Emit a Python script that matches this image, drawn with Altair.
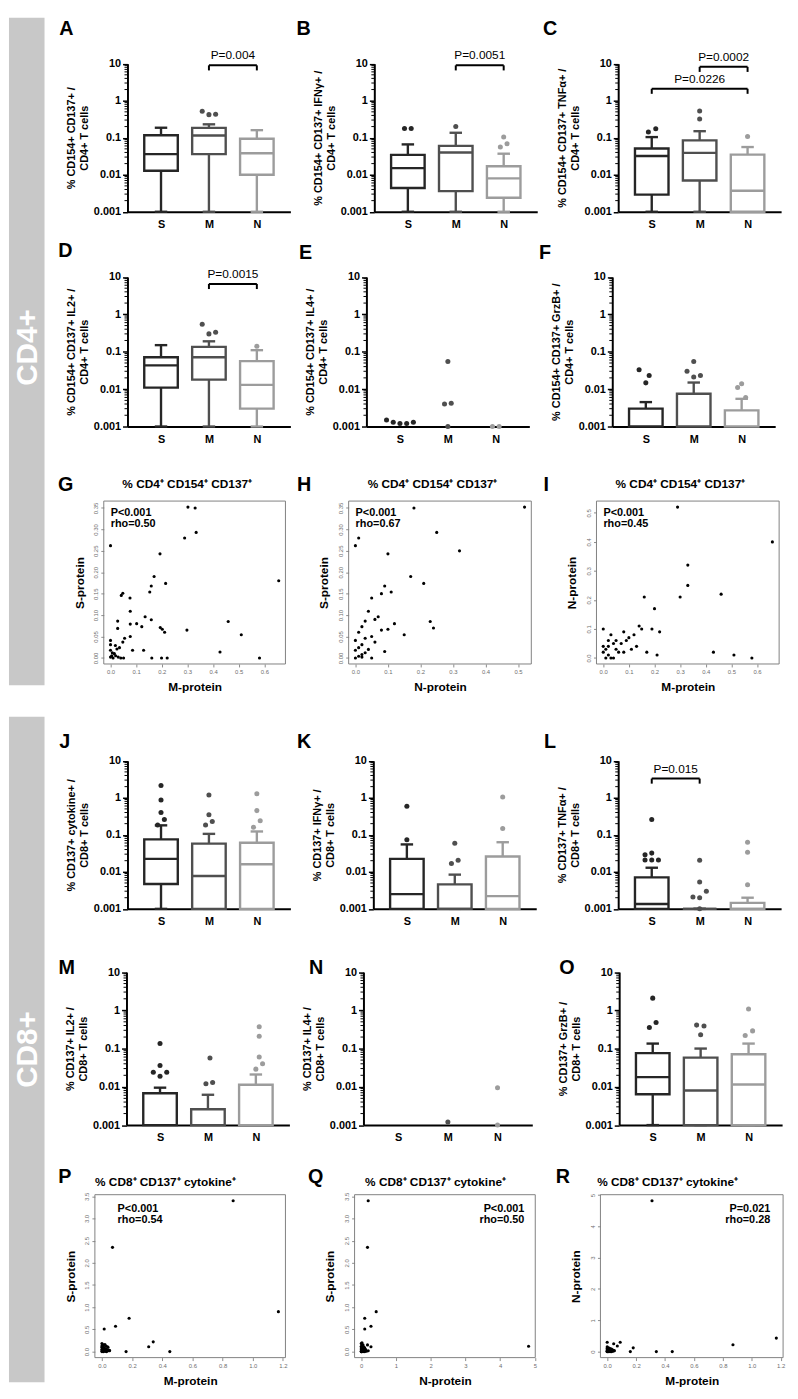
import altair as alt
import pandas as pd

FONT = "Liberation Sans"
CATS = ["S", "M", "N"]
CAT_POS = {"S": 0, "M": 1, "N": 2}
CAT_COLORS = ["#262626", "#4f4f4f", "#9c9c9c"]
SIDEBAR_COLOR = "#c8c8c8"

# ---------------- layout geometry (screen px) ----------------
COL_X = [50, 300, 550, 798]
ROW_Y = [8, 204.5, 421.5, 662, 909.5, 1128, 1363]
PLOT_TOP = [54.5, 270, 497, 759.5, 973, 1198]

Y_TICKS = [0.001, 0.01, 0.1, 1, 10]
MINOR_TICKS = [m * 10.0 ** e for e in (-3, -2, -1, 0) for m in range(2, 10)]

# ---------------- data: CD4+ ----------------
A_q1 = [0.0128, 0.036, 0.010]
A_med = [0.036, 0.115, 0.038]
A_q3 = [0.117, 0.185, 0.094]
A_lo = [0.001, 0.001, 0.001]
A_hi = [0.186, 0.23, 0.16]
A_out_cat = ["M", "M", "M"]
A_out_val = [0.52, 0.42, 0.43]
A_out_slot = [-1, 0, 1]
A_brk = [("M", "N", 9.0, "P=0.004")]

B_q1 = [0.0044, 0.0036, 0.0024]
B_med = [0.0151, 0.040, 0.008]
B_q3 = [0.0343, 0.060, 0.017]
B_lo = [0.001, 0.001, 0.001]
B_hi = [0.066, 0.136, 0.037]
B_out_cat = ["S", "S", "M", "N", "N", "N"]
B_out_val = [0.178, 0.178, 0.20, 0.105, 0.056, 0.069]
B_out_slot = [-0.5, 0.5, 0, 0, -0.5, 0.5]
B_brk = [("M", "N", 9.0, "P=0.0051")]

C_q1 = [0.0029, 0.007, 0.001]
C_med = [0.032, 0.039, 0.0037]
C_q3 = [0.051, 0.085, 0.035]
C_lo = [0.001, 0.001, 0.001]
C_hi = [0.104, 0.15, 0.056]
C_out_cat = ["S", "S", "M", "M", "N"]
C_out_val = [0.142, 0.174, 0.32, 0.53, 0.108]
C_out_slot = [-0.5, 0.6, 0, 0, 0]
C_brk = [("M", "N", 8.2, "P=0.0002"), ("S", "N", 2.1, "P=0.0226")]

D_q1 = [0.011, 0.018, 0.003]
D_med = [0.043, 0.071, 0.013]
D_q3 = [0.071, 0.135, 0.056]
D_lo = [0.001, 0.001, 0.001]
D_hi = [0.15, 0.19, 0.11]
D_out_cat = ["M", "M", "M", "N"]
D_out_val = [0.54, 0.30, 0.33, 0.14]
D_out_slot = [-1, 0, 1, 0]
D_brk = [("M", "N", 6.5, "P=0.0015")]

E_out_cat = ["S", "S", "S", "S", "S", "M", "M", "M", "M", "N", "N"]
E_out_val = [0.0015, 0.0013, 0.0012, 0.0012, 0.0013, 0.055, 0.004, 0.0042, 0.001, 0.001, 0.001]
E_out_slot = [-2, -1, 0, 1, 2, 0, -0.5, 0.5, 0, -0.5, 0.5]

F_mean = [0.003, 0.0075, 0.0027]
F_err = [0.0045, 0.015, 0.0055]
F_out_cat = ["S", "S", "S", "M", "M", "M", "M", "N", "N", "N"]
F_out_val = [0.033, 0.023, 0.0147, 0.055, 0.03, 0.023, 0.021, 0.014, 0.011, 0.006]
F_out_slot = [-1, 0.5, 0, 0, -1, 1, 0, 0, -0.6, 0.6]

# ---------------- data: CD8+ ----------------
J_q1 = [0.0047, 0.001, 0.001]
J_med = [0.0224, 0.0077, 0.016]
J_q3 = [0.075, 0.058, 0.061]
J_lo = [0.001, 0.001, 0.001]
J_hi = [0.18, 0.106, 0.123]
J_out_cat = ["S", "S", "S", "S", "S", "M", "M", "M", "M", "N", "N", "N", "N"]
J_out_val = [2.15, 0.87, 0.40, 0.185, 0.26, 1.19, 0.35, 0.185, 0.23, 1.29, 0.45, 0.16, 0.24]
J_out_slot = [0, 0, 0, -0.5, 0.5, 0, 0, -0.5, 0.5, 0, 0, -0.5, 0.5]

K_q1 = [0.001, 0.001, 0.001]
K_med = [0.0025, 0.001, 0.0022]
K_q3 = [0.0224, 0.0046, 0.026]
K_lo = [0.001, 0.001, 0.001]
K_hi = [0.055, 0.0084, 0.063]
K_out_cat = ["S", "S", "M", "M", "M", "N", "N"]
K_out_val = [0.074, 0.59, 0.059, 0.0168, 0.0205, 0.148, 1.05]
K_out_slot = [0, 0, 0, -0.5, 0.5, 0, 0]

L_q1 = [0.001, 0.001, 0.001]
L_med = [0.00135, 0.001, 0.001]
L_q3 = [0.0071, 0.001, 0.00145]
L_lo = [0.001, 0.001, 0.001]
L_hi = [0.0129, 0.001, 0.002]
L_out_cat = ["S", "S", "S", "S", "S", "S", "M", "M", "M", "M", "M", "M", "N", "N", "N"]
L_out_val = [0.26, 0.029, 0.032, 0.021, 0.021, 0.021, 0.0205, 0.0053, 0.003, 0.0021, 0.002, 0.001, 0.063, 0.034, 0.0045]
L_out_slot = [0, -1, 0, -1, 0, 1, 0, 0, 1, -1, 0, 0, 0, 0, 0]
L_brk = [("S", "M", 3.3, "P=0.015")]

M_mean = [0.0068, 0.0026, 0.0113]
M_err = [0.0095, 0.0062, 0.021]
M_out_cat = ["S", "S", "S", "S", "S", "M", "M", "M", "N", "N", "N", "N", "N"]
M_out_val = [0.135, 0.036, 0.024, 0.024, 0.019, 0.057, 0.012, 0.013, 0.37, 0.21, 0.06, 0.029, 0.04]
M_out_slot = [0, 0, -1, 1, 0, 0.3, -0.3, 0.7, 0.5, 0.5, 0.5, 0, 1]

N_out_cat = ["M", "N", "N"]
N_out_val = [0.0012, 0.0095, 0.001]
N_out_slot = [0, 0, 0]

O_q1 = [0.0064, 0.001, 0.001]
O_med = [0.018, 0.008, 0.0115]
O_q3 = [0.076, 0.058, 0.071]
O_lo = [0.001, 0.001, 0.001]
O_hi = [0.135, 0.10, 0.135]
O_out_cat = ["S", "S", "S", "M", "M", "M", "N", "N", "N"]
O_out_val = [2.08, 0.355, 0.48, 0.41, 0.39, 0.23, 1.08, 0.22, 0.29]
O_out_slot = [0, -0.5, 0.5, -0.6, 0.5, 0, 0, -0.5, 0.6]

# ---------------- data: correlations ----------------
G_x = [0.000, 0.302, 0.330, 0.334, 0.289, 0.193, 0.170, 0.215, 0.159, 0.153, 0.048, 0.042, 0.076, 0.077,
       0.135, 0.028, 0.459, 0.159, 0.102, 0.077, 0.122, 0.194, 0.202, 0.211, 0.028, 0.298, 0.510, 0.055,
       0.077, 0.048, 0.000, 0.000, 0.019, 0.035, 0.025, 0.086, 0.129, 0.427, 0.000, 0.007, 0.015, 0.005,
       0.000, 0.051, 0.040, 0.161, 0.199, 0.221, 0.581, 0.656, 0.010, 0.020, 0.030]
G_y = [0.262, 0.352, 0.350, 0.293, 0.280, 0.243, 0.190, 0.174, 0.168, 0.154, 0.151, 0.146, 0.140, 0.109,
       0.096, 0.086, 0.085, 0.089, 0.080, 0.079, 0.073, 0.071, 0.067, 0.060, 0.069, 0.065, 0.054, 0.046,
       0.050, 0.037, 0.041, 0.031, 0.029, 0.024, 0.021, 0.018, 0.018, 0.014, 0.018, 0.012, 0.010, 0.005,
       0.002, 0.000, 0.000, 0.000, 0.000, 0.000, 0.000, 0.180, 0.000, 0.005, 0.002]

H_x = [0.52, 0.32, 0.25, 0.18, 0.00, 0.01, 0.10, 0.17, 0.21, 0.09, 0.08, 0.11, 0.06, 0.05, 0.23, 0.24,
       0.04, 0.03, 0.07, 0.12, 0.02, 0.01, 0.00, 0.03, 0.05, 0.06, 0.08, 0.10, 0.02, 0.01, 0.00, 0.04,
       0.03, 0.02, 0.15, 0.09, 0.01, 0.05, 0.00, 0.02]
H_y = [0.352, 0.250, 0.293, 0.350, 0.262, 0.280, 0.243, 0.190, 0.174, 0.168, 0.150, 0.154, 0.090, 0.140,
       0.085, 0.070, 0.109, 0.086, 0.096, 0.080, 0.073, 0.060, 0.041, 0.046, 0.050, 0.037, 0.065, 0.067,
       0.031, 0.024, 0.018, 0.020, 0.012, 0.008, 0.054, 0.015, 0.004, 0.000, 0.000, 0.002]

I_x = [0.29, 0.66, 0.33, 0.33, 0.30, 0.16, 0.46, 0.20, 0.19, 0.15, 0.22, 0.12, 0.10, 0.08, 0.05, 0.04,
       0.03, 0.02, 0.01, 0.00, 0.00, 0.06, 0.07, 0.09, 0.13, 0.17, 0.21, 0.51, 0.58, 0.43, 0.01, 0.02,
       0.03, 0.05, 0.00, 0.04, 0.08, 0.11, 0.14, 0.02]
I_y = [0.52, 0.40, 0.32, 0.25, 0.21, 0.21, 0.22, 0.17, 0.10, 0.10, 0.09, 0.08, 0.07, 0.09, 0.06, 0.05,
       0.08, 0.04, 0.03, 0.02, 0.10, 0.02, 0.05, 0.06, 0.04, 0.02, 0.01, 0.01, 0.00, 0.02, 0.00, 0.01,
       0.00, 0.03, 0.04, 0.00, 0.02, 0.03, 0.11, 0.06]

P_x = [0.87, 0.07, 1.17, 0.18, 0.09, 0.015, 0.34, 0.31, 0.16, 0.45, 0.00, 0.01, 0.02, 0.03, 0.04, 0.00,
       0.01, 0.02, 0.03, 0.04, 0.05, 0.00, 0.01, 0.02, 0.03, 0.00, 0.01, 0.02, 0.04, 0.00, 0.01, 0.02,
       0.03, 0.05, 0.00, 0.01]
P_y = [3.40, 2.35, 0.90, 0.75, 0.57, 0.51, 0.22, 0.11, 0.00, 0.00, 0.18, 0.15, 0.16, 0.12, 0.10, 0.10,
       0.08, 0.06, 0.05, 0.04, 0.03, 0.05, 0.03, 0.02, 0.01, 0.00, 0.00, 0.01, 0.02, 0.13, 0.11, 0.07,
       0.00, 0.02, 0.02, 0.04]

Q_x = [0.20, 0.18, 4.82, 0.43, 0.10, 0.28, 0.10, 0.28, 0.20, 0.18, 0.00, 0.02, 0.05, 0.08, 0.10, 0.12,
       0.00, 0.03, 0.06, 0.09, 0.00, 0.01, 0.04, 0.07, 0.15, 0.00, 0.02, 0.05, 0.10, 0.13, 0.00, 0.03,
       0.06, 0.00, 0.01, 0.04]
Q_y = [3.40, 2.35, 0.12, 0.90, 0.75, 0.57, 0.51, 0.11, 0.02, 0.15, 0.18, 0.20, 0.15, 0.10, 0.08, 0.05,
       0.12, 0.10, 0.06, 0.03, 0.08, 0.05, 0.04, 0.02, 0.01, 0.00, 0.01, 0.00, 0.00, 0.03, 0.04, 0.02,
       0.01, 0.00, 0.00, 0.06]

R_x = [0.31, 1.17, 0.87, 0.00, 0.09, 0.045, 0.07, 0.18, 0.16, 0.34, 0.45, 0.00, 0.01, 0.02, 0.03, 0.04,
       0.00, 0.01, 0.02, 0.03, 0.00, 0.01, 0.02, 0.04, 0.00, 0.01, 0.02, 0.03, 0.05, 0.00, 0.01, 0.02,
       0.00, 0.01, 0.03, 0.02]
R_y = [4.82, 0.43, 0.22, 0.30, 0.30, 0.25, 0.18, 0.12, 0.00, 0.00, 0.00, 0.15, 0.12, 0.10, 0.08, 0.05,
       0.10, 0.08, 0.06, 0.04, 0.05, 0.03, 0.02, 0.01, 0.00, 0.00, 0.01, 0.00, 0.03, 0.02, 0.05, 0.07,
       0.00, 0.02, 0.06, 0.00]

CD4_T = "CD4+  T cells"
CD8_T = "CD8+  T cells"

CAT_PANELS = [
    dict(L="A", row=0, col=0, x0=128, w=165, lx=66, ly=19.5, kind="box",
         yt=["% CD154+ CD137+ /", CD4_T], st=(A_q1, A_med, A_q3, A_lo, A_hi),
         out=(A_out_cat, A_out_val, A_out_slot), brk=A_brk),
    dict(L="B", row=0, col=1, x0=378, w=165, lx=306.5, ly=19.5, kind="box",
         yt=["% CD154+ CD137+ IFN\u03b3+ /", CD4_T], st=(B_q1, B_med, B_q3, B_lo, B_hi),
         out=(B_out_cat, B_out_val, B_out_slot), brk=B_brk),
    dict(L="C", row=0, col=2, x0=625, w=165, lx=556, ly=19.5, kind="box",
         yt=["% CD154+ CD137+ TNF\u03b1+ /", CD4_T], st=(C_q1, C_med, C_q3, C_lo, C_hi),
         out=(C_out_cat, C_out_val, C_out_slot), brk=C_brk),
    dict(L="D", row=1, col=0, x0=128, w=165, lx=65, ly=243.5, kind="box",
         yt=["% CD154+ CD137+ IL2+ /", CD4_T], st=(D_q1, D_med, D_q3, D_lo, D_hi),
         out=(D_out_cat, D_out_val, D_out_slot), brk=D_brk),
    dict(L="E", row=1, col=1, x0=370, w=165, lx=308.5, ly=245.5, kind="dot",
         yt=["% CD154+ CD137+ IL4+ /", CD4_T], out=(E_out_cat, E_out_val, E_out_slot)),
    dict(L="F", row=1, col=2, x0=619, w=165, lx=551, ly=245.5, kind="bar",
         yt=["% CD154+ CD137+ GrzB+ /", CD4_T], st=(F_mean, F_err),
         out=(F_out_cat, F_out_val, F_out_slot)),
    dict(L="J", row=3, col=0, x0=128, w=165, lx=64.5, ly=740.5, kind="box",
         yt=["% CD137+ cytokine+ /", CD8_T], st=(J_q1, J_med, J_q3, J_lo, J_hi),
         out=(J_out_cat, J_out_val, J_out_slot)),
    dict(L="K", row=3, col=1, x0=377, w=165, lx=307, ly=740.5, kind="box",
         yt=["% CD137+ IFN\u03b3+ /", CD8_T], st=(K_q1, K_med, K_q3, K_lo, K_hi),
         out=(K_out_cat, K_out_val, K_out_slot)),
    dict(L="L", row=3, col=2, x0=625, w=165, lx=556, ly=740.5, kind="box",
         yt=["% CD137+ TNF\u03b1+ /", CD8_T], st=(L_q1, L_med, L_q3, L_lo, L_hi),
         out=(L_out_cat, L_out_val, L_out_slot), brk=L_brk),
    dict(L="M", row=4, col=0, x0=127, w=165, lx=66.5, ly=969, kind="bar",
         yt=["% CD137+ IL2+ /", CD8_T], st=(M_mean, M_err),
         out=(M_out_cat, M_out_val, M_out_slot)),
    dict(L="N", row=4, col=1, x0=367, w=171, lx=319, ly=969, kind="dot",
         yt=["% CD137+ IL4+ /", CD8_T], out=(N_out_cat, N_out_val, N_out_slot)),
    dict(L="O", row=4, col=2, x0=626, w=165, lx=573, ly=969, kind="box",
         yt=["% CD137+ GrzB+ /", CD8_T], st=(O_q1, O_med, O_q3, O_lo, O_hi),
         out=(O_out_cat, O_out_val, O_out_slot)),
]

T4 = "% CD4\u207a CD154\u207a CD137\u207a"
T8 = "% CD8\u207a CD137\u207a cytokine\u207a"
TK_01 = [0, 0.1, 0.2, 0.3, 0.4, 0.5, 0.6]
TK_005 = [0, 0.05, 0.1, 0.15, 0.2, 0.25, 0.3, 0.35]
TK_02 = [0, 0.2, 0.4, 0.6, 0.8, 1.0, 1.2]
TK_05 = [0, 0.5, 1.0, 1.5, 2.0, 2.5, 3.0, 3.5]
TK_1 = [0, 1, 2, 3, 4, 5]

SC_PANELS = [
    dict(L="G", row=2, col=0, bx=(104, 288), lx=65.5, ly=480.5, title=T4, tx=188.5, ty=480,
         x=G_x, y=G_y, xt=TK_01, yt=TK_005, xf=".1f", yf=".2f", xlab="M-protein", ylab="S-protein",
         stat="P<0.001\nrho=0.50", sx=111, sy=503, sa="left"),
    dict(L="H", row=2, col=1, bx=(352, 537), lx=307, ly=480.5, title=T4, tx=437, ty=480,
         x=H_x, y=H_y, xt=TK_01[:6], yt=TK_005, xf=".1f", yf=".2f", xlab="N-protein", ylab="S-protein",
         stat="P<0.001\nrho=0.67", sx=359, sy=503, sa="left"),
    dict(L="I", row=2, col=2, bx=(603, 788), lx=552, ly=480.5, title=T4, tx=688, ty=480,
         x=I_x, y=I_y, xt=TK_01, yt=TK_01[:6], xf=".1f", yf=".1f", xlab="M-protein", ylab="N-protein",
         stat="P<0.001\nrho=0.45", sx=610, sy=503, sa="left"),
    dict(L="P", row=5, col=0, bx=(95, 288), lx=64.5, ly=1180, title=T8, tx=166.5, ty=1185,
         x=P_x, y=P_y, xt=TK_02, yt=TK_05, xf=".1f", yf=".1f", xlab="M-protein", ylab="S-protein",
         stat="P<0.001\nrho=0.54", sx=118, sy=1207, sa="left"),
    dict(L="Q", row=5, col=1, bx=(358, 541), lx=318.5, ly=1180.5, title=T8, tx=440, ty=1185,
         x=Q_x, y=Q_y, xt=TK_1, yt=TK_05, xf="d", yf=".1f", xlab="N-protein", ylab="S-protein",
         stat="P<0.001\nrho=0.50", sx=530, sy=1207, sa="right"),
    dict(L="R", row=5, col=2, bx=(607, 792), lx=569, ly=1180, title=T8, tx=675, ty=1185,
         x=R_x, y=R_y, xt=TK_02, yt=TK_1, xf=".1f", yf="d", xlab="M-protein", ylab="N-protein",
         stat="P=0.021\nrho=0.28", sx=779, sy=1207, sa="right"),
]


def one_row():
    return alt.Chart(pd.DataFrame({"k": [0]}))


def text_at(x, y, txt, **kw):
    return one_row().mark_text(font=FONT, **kw).encode(
        x=alt.value(x), y=alt.value(y), text=alt.value(txt))


def cat_panel(P):
    r, c = P["row"], P["col"]
    W = COL_X[c + 1] - COL_X[c]
    H = ROW_Y[r + 1] - ROW_Y[r]
    gap = PLOT_TOP[r] - ROW_Y[r]
    a = P["x0"] - COL_X[c]
    xs = alt.Scale(domain=[-0.7, 2.7], range=[a, a + P["w"]], nice=False, zero=False)
    ys = alt.Scale(type="log", domain=[0.001, 10], range=[H, gap], nice=False)
    xax = alt.Axis(values=[0, 1, 2], labelExpr="['S','M','N'][datum.value]", title=None,
                   domainColor="black", domainWidth=2, ticks=False,
                   labelFont=FONT, labelFontSize=11, labelFontWeight="bold", labelColor="black",
                   labelPadding=7, grid=False, labelFlush=False, labelOverlap=False)
    yax = alt.Axis(values=Y_TICKS, format="~g", title=P["yt"], offset=-a,
                   domainColor="black", domainWidth=2, tickColor="black", tickWidth=1.5, tickSize=5,
                   labelFont=FONT, labelFontSize=11, labelFontWeight="bold", labelColor="black",
                   labelPadding=2, labelFlush=False, labelOverlap=False,
                   titleFont=FONT, titleFontSize=11, titleFontWeight="bold", titleColor="black",
                   titlePadding=4, grid=False)
    colr = alt.Scale(domain=CATS, range=CAT_COLORS)

    def ex(f):
        return alt.X(f + ":Q", scale=xs, axis=xax)

    def ey(f):
        return alt.Y(f + ":Q", scale=ys, axis=yax)

    stroke = alt.Stroke("cat:N", scale=colr, legend=None)
    layers = []
    if P["kind"] == "box":
        q1, med, q3, lo, hi = P["st"]
        st = pd.DataFrame({"cat": CATS, "pos": [0, 1, 2], "q1": q1, "med": med, "q3": q3,
                           "lo": lo, "hi": hi})
        base = alt.Chart(st).transform_calculate(
            bl="datum.pos-0.35", br="datum.pos+0.35", cl="datum.pos-0.13", cr="datum.pos+0.13")
        layers += [
            base.mark_rule(strokeWidth=2.4).encode(x=ex("pos"), y=ey("lo"), y2="hi", stroke=stroke),
            base.mark_rule(strokeWidth=2.4).encode(x=ex("cl"), x2="cr", y=ey("hi"), stroke=stroke),
            base.mark_rule(strokeWidth=2.4).encode(x=ex("cl"), x2="cr", y=ey("lo"), stroke=stroke),
            base.mark_rect(fill="white", strokeWidth=2.4).encode(
                x=ex("bl"), x2="br", y=ey("q1"), y2="q3", stroke=stroke),
            base.mark_rule(strokeWidth=2.4).encode(x=ex("bl"), x2="br", y=ey("med"), stroke=stroke),
        ]
    elif P["kind"] == "bar":
        mean, err = P["st"]
        st = pd.DataFrame({"cat": CATS, "pos": [0, 1, 2], "mean": mean, "err": err})
        base = alt.Chart(st).transform_calculate(
            bl="datum.pos-0.35", br="datum.pos+0.35", cl="datum.pos-0.13", cr="datum.pos+0.13",
            base="0.001")
        layers += [
            base.mark_rule(strokeWidth=2.4).encode(x=ex("pos"), y=ey("mean"), y2="err", stroke=stroke),
            base.mark_rule(strokeWidth=2.4).encode(x=ex("cl"), x2="cr", y=ey("err"), stroke=stroke),
            base.mark_rect(fill="white", strokeWidth=2.4).encode(
                x=ex("bl"), x2="br", y=ey("base"), y2="mean", stroke=stroke),
        ]
    oc, ov, osl = P["out"]
    od = pd.DataFrame({"cat": oc, "val": ov, "slot": osl})
    od["pos"] = od["cat"].map(CAT_POS)
    layers.append(
        alt.Chart(od).transform_calculate(px="datum.pos + datum.slot*0.14")
        .mark_circle(size=26, opacity=1)
        .encode(x=ex("px"), y=ey("val"), color=alt.Color("cat:N", scale=colr, legend=None)))
    if P.get("brk"):
        bd = pd.DataFrame({"x1": [CAT_POS[b[0]] for b in P["brk"]],
                           "x2": [CAT_POS[b[1]] for b in P["brk"]],
                           "y": [b[2] for b in P["brk"]],
                           "label": [b[3] for b in P["brk"]]})
        bb = alt.Chart(bd).transform_calculate(yl="datum.y*0.73", xm="(datum.x1+datum.x2)/2")
        layers += [
            bb.mark_rule(color="black", strokeWidth=2).encode(x=ex("x1"), x2="x2", y=ey("y")),
            bb.mark_rule(color="black", strokeWidth=2).encode(x=ex("x1"), y=ey("yl"), y2="y"),
            bb.mark_rule(color="black", strokeWidth=2).encode(x=ex("x2"), y=ey("yl"), y2="y"),
            bb.mark_text(font=FONT, fontSize=12, baseline="bottom", dy=-3, color="black")
            .encode(x=ex("xm"), y=ey("y"), text="label:N"),
        ]
    layers.append(
        alt.Chart(pd.DataFrame({"v": MINOR_TICKS})).mark_rule(color="black", strokeWidth=1)
        .encode(x=alt.value(a), x2=alt.value(a - 3), y=ey("v")))
    layers.append(text_at(P["lx"] - COL_X[c], P["ly"] - ROW_Y[r], P["L"], fontSize=20,
                          fontWeight="bold", align="center", baseline="middle", color="black"))
    if P["L"] == "A":
        dx = -COL_X[0]
        dy = -ROW_Y[0]
        side = one_row()
        layers = [
            side.mark_rect(color=SIDEBAR_COLOR).encode(
                x=alt.value(8 + dx), x2=alt.value(44 + dx), y=alt.value(8 + dy), y2=alt.value(684 + dy)),
            side.mark_rect(color=SIDEBAR_COLOR).encode(
                x=alt.value(8 + dx), x2=alt.value(44 + dx), y=alt.value(716 + dy), y2=alt.value(1390 + dy)),
            text_at(27 + dx, 342 + dy, "CD4+", fontSize=30, fontWeight="bold", color="white",
                    angle=270, align="center", baseline="middle"),
            text_at(27 + dx, 1053 + dy, "CD8+", fontSize=30, fontWeight="bold", color="white",
                    angle=270, align="center", baseline="middle"),
        ] + layers
    return alt.layer(*layers).properties(width=W, height=H)


def ext(vals):
    lo, hi = min(vals), max(vals)
    d = (hi - lo) * 0.04
    return [lo - d, hi + d]


def scatter_panel(P):
    r, c = P["row"], P["col"]
    W = COL_X[c + 1] - COL_X[c]
    H = ROW_Y[r + 1] - ROW_Y[r]
    gap = PLOT_TOP[r] - ROW_Y[r]
    a, b = P["bx"][0] - COL_X[c], P["bx"][1] - COL_X[c]
    xd, yd = ext(P["x"]), ext(P["y"])
    xs = alt.Scale(domain=xd, range=[a, b], nice=False, zero=False)
    ys = alt.Scale(domain=yd, range=[H, gap], nice=False, zero=False)
    common = dict(grid=False, domain=False, tickColor="#6e6e6e", tickSize=3, tickWidth=0.8,
                  labelFont=FONT, labelFontSize=6, labelColor="#6e6e6e", labelPadding=2,
                  labelFlush=False, labelOverlap=False, titleFont=FONT, titleFontSize=12,
                  titleFontWeight="bold", titleColor="black", titlePadding=7)
    xax = alt.Axis(values=P["xt"], format=P["xf"], title=P["xlab"], **common)
    yax = alt.Axis(values=P["yt"], format=P["yf"], title=P["ylab"], labelAngle=270, offset=-a, **common)
    pts = pd.DataFrame({"x": P["x"], "y": P["y"]})
    frame = pd.DataFrame({"x0": [xd[0]], "x1": [xd[1]], "y0": [yd[0]], "y1": [yd[1]]})
    layers = [
        alt.Chart(frame).mark_rect(filled=False, color="#808080", strokeWidth=1).encode(
            x=alt.X("x0:Q", scale=xs, axis=xax), x2="x1",
            y=alt.Y("y0:Q", scale=ys, axis=yax), y2="y1"),
        alt.Chart(pts).mark_circle(size=10, color="black", opacity=1).encode(
            x=alt.X("x:Q", scale=xs, axis=xax), y=alt.Y("y:Q", scale=ys, axis=yax)),
        text_at(P["lx"] - COL_X[c], P["ly"] - ROW_Y[r], P["L"], fontSize=20, fontWeight="bold",
                align="center", baseline="middle", color="black"),
        text_at(P["tx"] - COL_X[c], P["ty"] - ROW_Y[r], P["title"], fontSize=12, fontWeight="bold",
                align="center", baseline="middle", color="black"),
        one_row().mark_text(font=FONT, fontSize=11, fontWeight="bold", align=P["sa"], baseline="top",
                            lineBreak="\n", lineHeight=11, color="black").encode(
            x=alt.value(P["sx"] - COL_X[c]), y=alt.value(P["sy"] - ROW_Y[r]),
            text=alt.value(P["stat"])),
    ]
    return alt.layer(*layers).properties(width=W, height=H)


panels = {}
for P in CAT_PANELS:
    panels[P["L"]] = cat_panel(P)
for P in SC_PANELS:
    panels[P["L"]] = scatter_panel(P)

order = "ABCDEFGHIJKLMNOPQR"
chart = alt.concat(*[panels[k] for k in order], columns=3, spacing=0, bounds="flush",
                   align="each", padding=0).configure_view(stroke="transparent")

chart.save("out.html", embed_options={"renderer": "svg", "actions": False})
